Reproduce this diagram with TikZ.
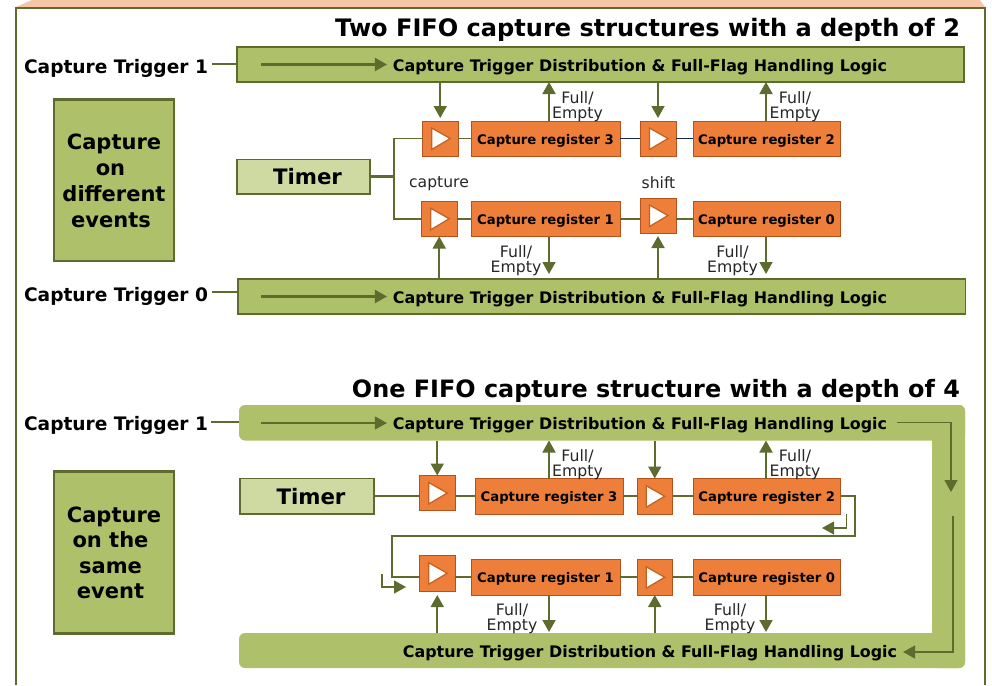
\documentclass[tikz,border=0pt]{standalone}
\usepackage{fontspec}
\setmainfont{DejaVu Sans}
\usetikzlibrary{arrows.meta,calc}
\definecolor{oliveline}{HTML}{5E6B2E}
\definecolor{barfill}{HTML}{AEC069}
\definecolor{timerfill}{HTML}{CFDAA3}
\definecolor{orangefill}{HTML}{EE7F3B}
\definecolor{orangeline}{HTML}{B5521B}
\definecolor{triline}{HTML}{C4631F}
\definecolor{peach}{HTML}{F6C6A6}
\definecolor{navyline}{HTML}{12264F}
\newcommand{\fsz}[1]{\fontsize{#1pt}{#1pt}\selectfont}
\newcommand{\Bx}[7]{%
  \pgfmathsetmacro{\bxw}{#5-#3}\pgfmathsetmacro{\bxh}{#6-#4}%
  \pgfmathsetmacro{\bxx}{(#3+#5)/2}\pgfmathsetmacro{\bxy}{(#4+#6)/2}%
  \node[#2,minimum width=\bxw pt,minimum height=\bxh pt] (#1) at (\bxx,\bxy) {#7};}
\newcommand{\Tri}[2]{%
  \draw[tri] ($(#1)+(-8.5,-10.5)$) -- ($(#1)+(10,0)$) -- ($(#1)+(-8.5,11)$) -- cycle;}
\tikzset{
  anybox/.style={inner sep=0pt,outer sep=0pt,align=center},
  barbox/.style={anybox,draw=oliveline,fill=barfill,line width=1.6pt},
  tagbox/.style={barbox,line width=2.2pt,font=\bfseries\fsz{21},text depth=0pt},
  ringbar/.style={anybox,fill=barfill,rounded corners=6pt},
  timerbox/.style={anybox,draw=oliveline,fill=timerfill,line width=1.6pt,font=\bfseries\fsz{21.3},text height=15.5pt,text depth=0pt},
  regbox/.style={anybox,draw=orangeline,fill=orangefill,line width=1pt,font=\bfseries\fsz{13.2},text height=11pt,text depth=0pt},
  cellbox/.style={anybox,draw=orangeline,fill=orangefill,line width=1pt},
  tri/.style={draw=triline,fill=white,line width=1.3pt,line join=miter},
  bartext/.style={inner sep=0pt,outer sep=0pt,font=\bfseries\fsz{15.9},text height=13.6pt,text depth=0pt},
  trig/.style={inner sep=0pt,outer sep=0pt,font=\bfseries\fsz{18.6},text height=15.5pt,text depth=0pt},
  titletext/.style={inner sep=0pt,outer sep=0pt,font=\bfseries\fsz{24.05},text height=19.5pt,text depth=0pt},
  small/.style={inner sep=0pt,outer sep=0pt,font=\fsz{15.6},text=black!85},
  fe/.style={small,align=center,font=\fontsize{15.7pt}{15pt}\selectfont},
  wire/.style={draw=oliveline,line width=1.6pt},
  fat/.style={draw=oliveline,line width=2.4pt},
  navy/.style={draw=navyline,line width=1.6pt},
  arr/.style={draw=oliveline,line width=1.8pt,-{Triangle[length=12pt,width=13pt]}},
  thinarr/.style={draw=oliveline,line width=1.3pt,-{Triangle[length=12pt,width=13pt]}},
  midarr/.style={draw=oliveline,line width=2.2pt,-{Triangle[length=12pt,width=13pt]}},
}
\begin{document}
\begin{tikzpicture}[x=1pt,y=-1pt]
\useasboundingbox (0,0) rectangle (992,685);
% frame and top band
\fill[peach] (16,7) -- (32,0) -- (980,0) -- (985,7) -- cycle;
\draw[draw=oliveline,line width=2pt] (16,685) -- (16,8.5) -- (985,8.5) -- (985,685);

% ---------- upper structure ----------
\node[titletext,anchor=east] (title1) at (960,27) {Two FIFO capture structures with a depth of 2};
\Bx{b1}{barbox}{237}{47}{964}{82}{}
\Bx{b0}{barbox}{238}{279}{965.5}{314}{}
\node[bartext] (t1) at (640,65) {Capture Trigger Distribution \& Full-Flag Handling Logic};
\node[bartext] (t0) at (640,297) {Capture Trigger Distribution \& Full-Flag Handling Logic};
\node[trig,anchor=east] (l1) at (208,66) {Capture Trigger 1};
\node[trig,anchor=east] (l0) at (208,294) {Capture Trigger 0};
\Bx{tagA}{tagbox}{54}{99.5}{174}{261}{Capture\\[5pt]on\kern7pt\\[5pt]different\\[5pt]events\kern6pt}
\Bx{timerA}{timerbox}{237}{159.5}{370}{194}{\hspace*{8pt}Timer}
\Bx{r3}{regbox}{471}{121}{620}{156}{Capture register 3}
\Bx{r2}{regbox}{693}{121}{840}{156}{Capture register 2}
\Bx{r1}{regbox}{471}{201.5}{620}{236.5}{Capture register 1}
\Bx{r0}{regbox}{693}{201.5}{840}{236.5}{Capture register 0}
\Bx{c3}{cellbox}{422.5}{121}{458}{156}{}
\Bx{c2}{cellbox}{640}{121}{676}{156}{}
\Bx{c1}{cellbox}{421.5}{201}{457}{236.5}{}
\Bx{c0}{cellbox}{640}{198}{676}{233}{}
\foreach \n in {c3,c2,c1,c0}{\Tri{\n}{}}
\draw[wire] (l1.east) ++(4,-2) coordinate (l1o) -- (l1o -| b1.west);
\draw[wire] (l0.east) ++(4,-2) coordinate (l0o) -- (l0o -| b0.west);
\coordinate (a1) at (261,64.5);
\coordinate (a0) at (261,296.5);
\draw[midarr] (a1) -- ([xshift=-6]a1 -| t1.west);
\draw[midarr] (a0) -- ([xshift=-6]a0 -| t0.west);
\coordinate (split) at (394,176.5);
\draw[fat] (timerA.east |- split) -- (split);
\draw[wire] (c3.west) -| (split) |- (c1.west);
\draw[wire] (c3.east) -- (c3.east -| r3.west);
\draw[navy] (r3.east) -- (r3.east -| c2.west);
\draw[navy] (c2.east) -- (c2.east -| r2.west);
\draw[wire] (c1.east) -- (c1.east -| r1.west);
\draw[wire] (r1.east) -- (r1.east -| c0.west);
\draw[wire] (c0.east |- r0.west) -- (r0.west);
\draw[arr] (c3.north |- b1.south) -- ([yshift=3]c3.north);
\draw[arr] (c2.north |- b1.south) -- ([yshift=3]c2.north);
\draw[arr] (c1.south |- b0.north) -- (c1.south);
\draw[arr] (c0.south |- b0.north) -- ([yshift=-3]c0.south);
\draw[arr] ([xshift=3.5]r3.north) -- ([xshift=3.5]r3.north |- b1.south);
\draw[arr] ([xshift=-0.5]r2.north) -- ([xshift=-0.5]r2.north |- b1.south);
\draw[arr] ([xshift=3.5]r1.south) -- ([xshift=3.5,yshift=5]r1.south |- b0.north);
\draw[arr] ([xshift=-0.5]r0.south) -- ([xshift=-0.5,yshift=5]r0.south |- b0.north);
\node[fe] (fe3) at (577.5,106.5) {Full/\\Empty};
\node[fe] (fe2) at (795,106.5) {Full/\\Empty};
\node[fe] (fe1) at (516,260.5) {Full/\\Empty};
\node[fe] (fe0) at (732.5,260.5) {Full/\\Empty};
\node[small] (capA) at (439,184) {capture};
\node[small] (shiftA) at (658.5,183) {shift};

% ---------- lower structure ----------
\node[titletext,anchor=east,font=\bfseries\fsz{23.9}] (title2) at (960,388) {One FIFO capture structure with a depth of 4};
\Bx{side}{ringbar}{932}{405}{965}{668}{}
\Bx{b3}{ringbar}{239}{405}{965}{440.5}{}
\Bx{b2}{ringbar}{239}{633}{965}{668}{}
\node[bartext] (t3) at (640,423) {Capture Trigger Distribution \& Full-Flag Handling Logic};
\node[bartext] (t2) at (650,651) {Capture Trigger Distribution \& Full-Flag Handling Logic};
\node[trig,anchor=east] (l3) at (208,423) {Capture Trigger 1};
\Bx{tagB}{tagbox}{54}{471.5}{174}{633.5}{Capture\\[4.5pt]on the\kern7pt\\[4.5pt]same\kern7pt\\[4.5pt]event\kern7pt}
\Bx{timerB}{timerbox}{240}{478.5}{374}{514}{\hspace*{8pt}Timer}
\Bx{s3}{regbox}{475}{478.5}{623}{514}{Capture register 3}
\Bx{s2}{regbox}{693}{478.5}{840.5}{514}{Capture register 2}
\Bx{s1}{regbox}{471}{559.5}{620}{595}{Capture register 1}
\Bx{s0}{regbox}{693}{559.5}{840.5}{595}{Capture register 0}
\Bx{d3}{cellbox}{419.5}{475.5}{455}{510.5}{}
\Bx{d2}{cellbox}{637}{478.5}{672.5}{514}{}
\Bx{d1}{cellbox}{419.5}{555.5}{455}{591}{}
\Bx{d0}{cellbox}{637}{559.5}{672.5}{595}{}
\foreach \n in {d3,d2,d1,d0}{\Tri{\n}{}}
\draw[wire] (l3.east) ++(3,-1) coordinate (l3o) -- (l3o -| b3.west);
\coordinate (a3) at (261,423);
\draw[thinarr] (a3) -- ([xshift=-6]a3 -| t3.west);
\draw[fat] (timerB.east) -- (timerB.east -| d3.west);
\draw[fat] (d3.east |- s3.west) -- (s3.west);
\draw[fat] (s3.east) -- (s3.east -| d2.west);
\draw[fat] (d2.east) -- (d2.east -| s2.west);
\draw[fat] (d1.east |- s1.west) -- (s1.west);
\draw[fat] (s1.east) -- (s1.east -| d0.west);
\draw[fat] (d0.east) -- (d0.east -| s0.west);
\coordinate (wrapR) at (855,536);
\coordinate (wrapL) at (392,536);
\draw[fat] (s2.east) -| (wrapR) -- (wrapL) |- (d1.west |- s1.west);
\coordinate (hintA) at (846.5,514);
\coordinate (hintB) at (822,528);
\draw[thinarr] (hintA) |- (hintB);
\coordinate (hintC) at (382,574);
\coordinate (hintD) at (406,587);
\draw[thinarr] (hintC) |- (hintD);
\draw[arr] (d3.north |- b3.south) -- (d3.north);
\draw[arr] (d2.north |- b3.south) -- (d2.north);
\draw[arr] (d1.south |- b2.north) -- ([yshift=-4]d1.south);
\draw[arr] (d0.south |- b2.north) -- (d0.south);
\draw[arr] ([xshift=3.5]s3.north -| r3.north) coordinate (p3) -- (p3 |- b3.south);
\draw[arr] ([xshift=-0.75]s2.north) coordinate (p2) -- (p2 |- b3.south);
\draw[arr] ([xshift=3.5]s1.south) coordinate (p1) -- ([yshift=1]p1 |- b2.north);
\draw[arr] ([xshift=-0.75]s0.south) coordinate (p0) -- ([yshift=1]p0 |- b2.north);
\node[fe] (ge3) at (577.5,464.5) {Full/\\Empty};
\node[fe] (ge2) at (795,464.5) {Full/\\Empty};
\node[fe] (ge1) at (512,618.5) {Full/\\Empty};
\node[fe] (ge0) at (730,618.5) {Full/\\Empty};
\coordinate (o1) at (897,422.5);
\coordinate (o2) at (951,492);
\draw[thinarr] (o1) -| (o2);
\coordinate (o3) at (953,516);
\coordinate (o4) at (953,652);
\draw[thinarr] (o3) -- (o4) -- ([xshift=6]t2.east |- o4);
\end{tikzpicture}
\end{document}
